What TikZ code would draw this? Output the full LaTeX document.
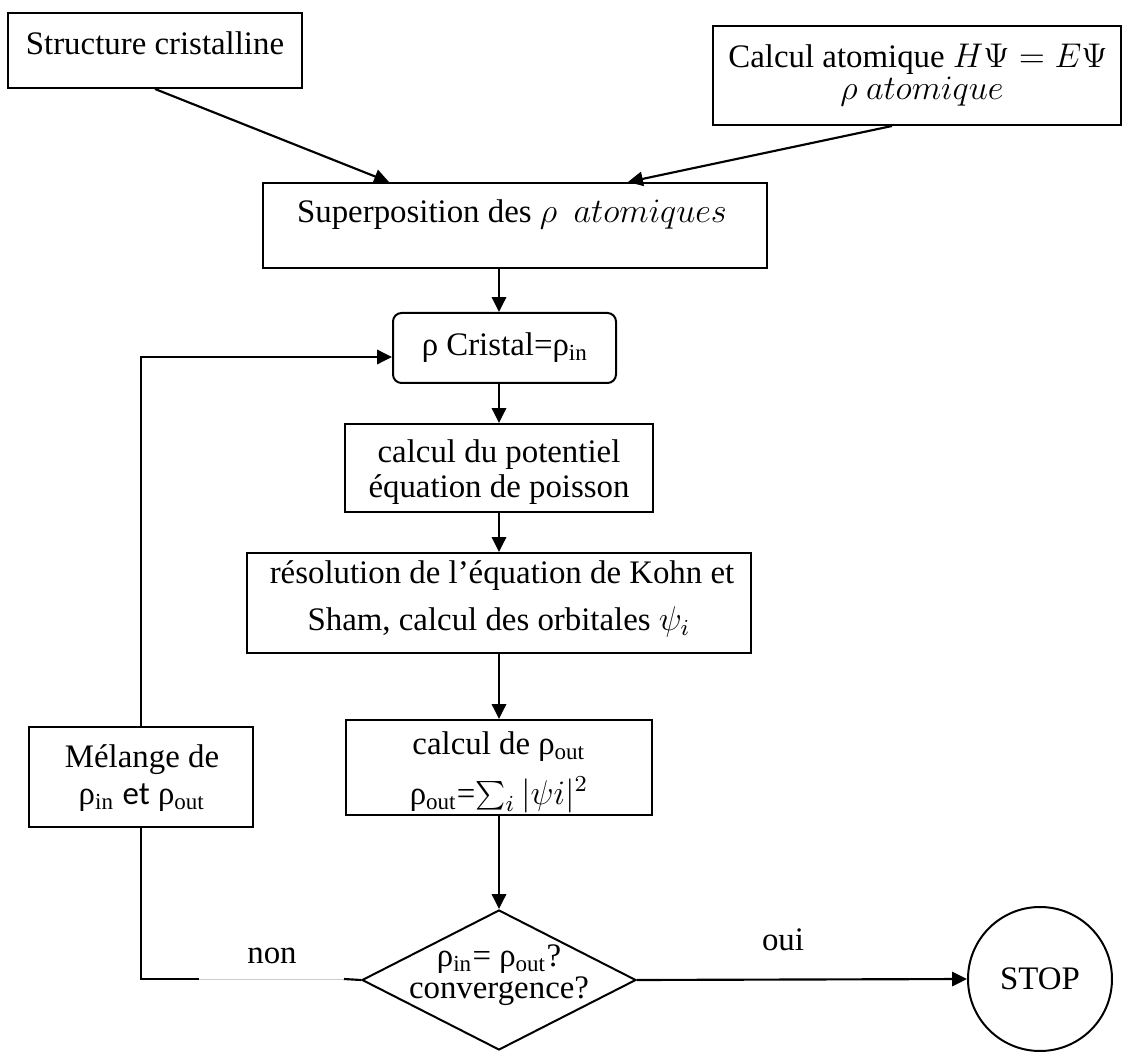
\documentclass[tikz,border=0pt]{standalone}
\usepackage{fontspec}
\setmainfont{Liberation Serif}
\newfontfamily\calib{Carlito}
\usetikzlibrary{shapes.geometric,arrows.meta,calc}
\begin{document}
\begin{tikzpicture}[x=0.35pt,y=-0.35pt,
  box/.style={draw, line width=0.7pt, inner sep=0pt},
  wh/.style 2 args={minimum width={#1*0.35pt}, minimum height={#2*0.35pt}},
  txt/.style={font=\fontsize{11.5}{13.8}\selectfont, inner sep=0pt, anchor=base},
  conn/.style={line width=0.75pt},
  arr/.style={conn, -{Triangle[length=5.2pt,width=5pt]}}]
\useasboundingbox (0,0) rectangle (1124,1052);

% boxes
\node[box, wh={294}{75}] (s1) at (155,50.5) {};
\node[box, wh={408}{99}] (calc) at (917,75.5) {};
\node[box, wh={504}{85}] (sup) at (515,225.5) {};
\node[box, wh={223}{70}, rounded corners=3pt] (cr) at (504.5,348) {};
\node[box, wh={308}{88}] (pot) at (499,468) {};
\node[box, wh={504}{100}] (res) at (499,603) {};
\node[box, wh={306}{95}] (rho) at (499,767.5) {};
\node[box, wh={224}{100}] (mel) at (141,777) {};
\node[box, diamond, wh={274}{140}] (dia) at (499,980) {};
\node[box, circle, minimum size={144*0.35pt}] (stop) at (1040,979) {};

% texts
\node[txt] (t1) at (155,55) {Structure cristalline};
\node[txt] (t2a) at (918,68) {Calcul atomique $H\Psi=E\Psi$};
\node[txt] (t2b) at (922,100) {$\rho\ atomique$};
\node[txt] (t3) at (512,223) {Superposition des $\rho\ \ atomiques$};
\node[txt] (t4) at (505,355) {ρ Cristal=ρ\textsubscript{in}};
\node[txt] (t5a) at (499,463) {calcul du potentiel};
\node[txt] (t5b) at (499,498) {équation de poisson};
\node[txt] (t6a) at (502,583) {résolution de l’équation de Kohn et};
\node[txt] (t6b) at (499,630) {Sham, calcul des orbitales $\psi_i$};
\node[txt] (t7a) at (499,754) {calcul de ρ\textsubscript{out}};
\node[txt] (t7b) at (499,804) {ρ\textsubscript{out}=$\sum_i|\psi i|^2$};
\node[txt] (t8a) at (142,767) {Mélange de};
\node[txt] (t8b) at (142,804) {ρ\textsubscript{in} {\calib et} ρ\textsubscript{out}};
\node[txt] (t9a) at (499,966) {ρ\textsubscript{in}= ρ\textsubscript{out}?};
\node[txt] (t9b) at (499,998) {convergence?};
\node[txt, anchor=center] (t10) at (stop.center) {STOP};
\node[txt] (oui) at (783,950) {oui};
\node[txt] (non) at (272,963) {non};

% connectors
\draw[arr] (s1.south) -- ($(sup.north west)+(127,0)$);
\draw[arr] ($(calc.south west)+(180,0)$) -- ($(sup.north east)+(-140,0)$);
\draw[arr] (pot.north |- sup.south) -- (pot.north |- cr.north);
\draw[arr] (pot.north |- cr.south) -- (pot.north);
\draw[arr] (pot.south) -- (res.north);
\draw[arr] (res.south) -- (rho.north);
\draw[arr] (rho.south) -- (dia.north);
\draw[arr] (dia.east) -- (stop.west);
\coordinate (loopin) at ($(cr.west)+(0,9)$);
\draw[arr] (mel.north) |- (loopin);
\coordinate (nonA) at (199,979);
\coordinate (nonB) at (344,979);
\draw[conn] (mel.south) |- (nonA);
\draw[black!20, line width=0.3pt] (nonA) -- (nonB);
\draw[conn] (nonB) -- (dia.west);
\end{tikzpicture}
\end{document}
